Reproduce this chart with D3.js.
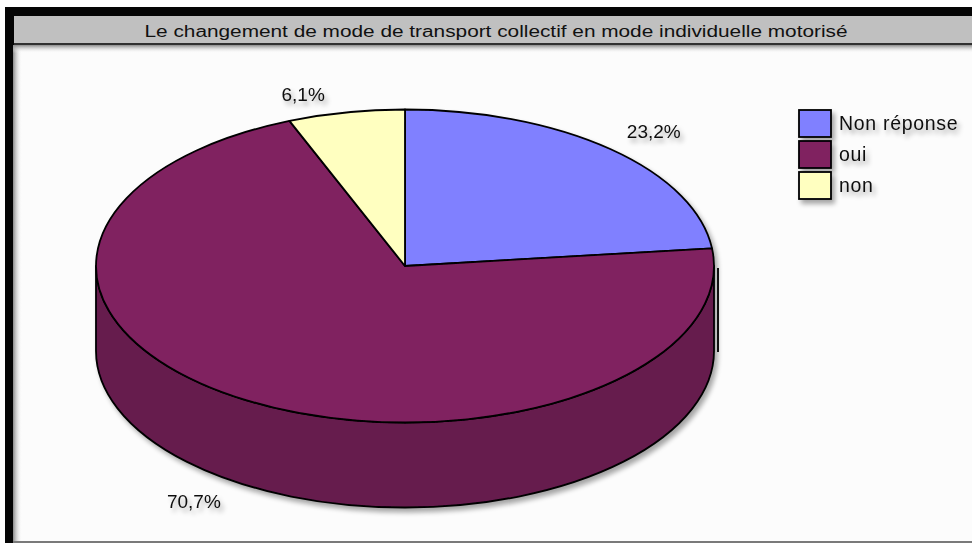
<!DOCTYPE html>
<html>
<head>
<meta charset="utf-8">
<script src="https://cdn.jsdelivr.net/npm/d3@7/dist/d3.min.js"></script>
<style>
  html, body { margin: 0; padding: 0; background: #ffffff; }
  svg { display: block; }
  text { font-family: "Liberation Sans", Arial, sans-serif; }
</style>
</head>
<body>
<svg id="chart" width="972" height="543"></svg>
<script>
// Chart data
const title = "Le changement de mode de transport collectif en mode individuelle motorisé";
const categories = ["Non réponse", "oui", "non"];
const shares = [23.2, 70.7, 6.1];
const valueLabels = ["23,2%", "70,7%", "6,1%"];
const sliceColors = ["#8080ff", "#802060", "#ffffc0"];

// Layout
const W = 972, H = 543;
const cx = 405, cy = 266;      // centre of the top face
const rx = 309, ry = 156.5;    // ellipse radii of the top face
const depth = 85;              // thickness of the disc
const sideColor = "#661b4e";
// label offsets from the rim point at each slice's mid-angle
const labelOffsets = [[43, -18], [-53, 16], [-43, -18]];

const svg = d3.select("#chart");
const defs = svg.append("defs");

// soft drop shadow used by the pie, texts and legend keys
const sh = defs.append("filter").attr("id", "shadow")
  .attr("x", "-20%").attr("y", "-20%").attr("width", "150%").attr("height", "160%");
sh.append("feGaussianBlur").attr("in", "SourceAlpha").attr("stdDeviation", 2.5).attr("result", "b");
sh.append("feOffset").attr("in", "b").attr("dx", 3).attr("dy", 4).attr("result", "o");
sh.append("feComponentTransfer").attr("in", "o").attr("result", "s")
  .append("feFuncA").attr("type", "linear").attr("slope", 0.35);
const shm = sh.append("feMerge");
shm.append("feMergeNode").attr("in", "s");
shm.append("feMergeNode").attr("in", "SourceGraphic");

const gl = defs.append("linearGradient").attr("id", "shadeLeft").attr("x1", 0).attr("x2", 1).attr("y1", 0).attr("y2", 0);
gl.append("stop").attr("offset", 0).attr("stop-color", "#8a8a8a");
gl.append("stop").attr("offset", 1).attr("stop-color", "#fcfcfc").attr("stop-opacity", 0);
const gt = defs.append("linearGradient").attr("id", "shadeTop").attr("x1", 0).attr("x2", 0).attr("y1", 0).attr("y2", 1);
gt.append("stop").attr("offset", 0).attr("stop-color", "#8a8a8a");
gt.append("stop").attr("offset", 1).attr("stop-color", "#fcfcfc").attr("stop-opacity", 0);

// frame
svg.append("rect").attr("x", 5).attr("y", 7).attr("width", W - 5).attr("height", H - 7).attr("fill", "#050505");
svg.append("rect").attr("x", 14).attr("y", 16).attr("width", W - 14).attr("height", 27).attr("fill", "#c0c0c0");
svg.append("rect").attr("x", 14).attr("y", 43).attr("width", W - 14).attr("height", 2).attr("fill", "#303030");
svg.append("rect").attr("x", 13).attr("y", 45).attr("width", W - 13).attr("height", 496).attr("fill", "#fcfcfc");
svg.append("rect").attr("x", 13).attr("y", 45).attr("width", 9).attr("height", 496).attr("fill", "url(#shadeLeft)");
svg.append("rect").attr("x", 13).attr("y", 45).attr("width", W - 13).attr("height", 8).attr("fill", "url(#shadeTop)");
svg.append("rect").attr("x", 13).attr("y", 541).attr("width", W - 13).attr("height", 2).attr("fill", "#7a7a7a");

svg.append("text")
  .attr("x", 496).attr("y", 36.5)
  .attr("text-anchor", "middle")
  .attr("font-size", 16)
  .attr("textLength", 703).attr("lengthAdjust", "spacingAndGlyphs")
  .attr("fill", "#111")
  .text(title);

// pie layout: first slice starts at 12 o'clock, clockwise, no sorting
const pie = d3.pie().sort(null).value(d => d)(shares);
const color = d3.scaleOrdinal().domain(categories).range(sliceColors);

const pt = (a, dy = 0) => [cx + rx * Math.sin(a), cy - ry * Math.cos(a) + dy];

const pieG = svg.append("g").attr("filter", "url(#shadow)");

// visible side wall: front half of the disc (angles PI/2 .. 3PI/2)
const sideSlices = pie.map(d => ({
  d, a0: Math.max(d.startAngle, Math.PI / 2), a1: Math.min(d.endAngle, 3 * Math.PI / 2)
})).filter(s => s.a1 > s.a0);

sideSlices.forEach(s => {
  const p0 = pt(s.a0), p1 = pt(s.a1);
  const q0 = pt(s.a0, depth), q1 = pt(s.a1, depth);
  const path = `M${p0}L${q0}A${rx},${ry} 0 0 1 ${q1}L${p1}A${rx},${ry} 0 0 0 ${p0}Z`;
  pieG.append("path")
    .attr("d", path)
    .attr("fill", s.d.index === 1 ? sideColor : d3.color(color(categories[s.d.index])).darker(0.7))
    .attr("stroke", "#000").attr("stroke-width", 1.8).attr("stroke-linejoin", "round");
});

// top face slices
pieG.selectAll("path.top").data(pie).join("path")
  .attr("class", "top")
  .attr("d", d => {
    const a = pt(d.startAngle), b = pt(d.endAngle);
    const large = (d.endAngle - d.startAngle) > Math.PI ? 1 : 0;
    return `M${cx},${cy}L${a}A${rx},${ry} 0 ${large} 1 ${b}Z`;
  })
  .attr("fill", (d, i) => color(categories[i]))
  .attr("stroke", "#000").attr("stroke-width", 1.8).attr("stroke-linejoin", "round");

// thin dark edge line beside the right rim
svg.append("line")
  .attr("x1", cx + rx + 4).attr("x2", cx + rx + 4)
  .attr("y1", cy + 2).attr("y2", cy + depth + 1)
  .attr("stroke", "#111").attr("stroke-width", 2);

// value labels
svg.selectAll("text.val").data(pie).join("text")
  .attr("class", "val")
  .attr("filter", "url(#shadow)")
  .attr("font-size", 19)
  .attr("fill", "#111")
  .attr("text-anchor", "middle")
  .attr("x", d => {
    const m = (d.startAngle + d.endAngle) / 2;
    return pt(m)[0] + labelOffsets[d.index][0];
  })
  .attr("y", d => {
    const m = (d.startAngle + d.endAngle) / 2;
    const extra = Math.cos(m) < 0 ? depth : 0;
    return pt(m, extra)[1] + labelOffsets[d.index][1] + 7;
  })
  .text(d => valueLabels[d.index]);

// legend
const legend = svg.append("g").attr("transform", "translate(799,110)");
const rowStep = d3.scalePoint().domain(categories).range([0, 62]);
const rows = legend.selectAll("g").data(categories).join("g")
  .attr("transform", d => `translate(0,${rowStep(d)})`);
rows.append("rect")
  .attr("width", 32).attr("height", 27)
  .attr("fill", d => color(d))
  .attr("stroke", "#000").attr("stroke-width", 1.8)
  .attr("filter", "url(#shadow)");
rows.append("text")
  .attr("x", 40).attr("y", 20)
  .attr("font-size", 19.5)
  .attr("letter-spacing", 0.7)
  .attr("fill", "#111")
  .attr("filter", "url(#shadow)")
  .text(d => d);
</script>
</body>
</html>
